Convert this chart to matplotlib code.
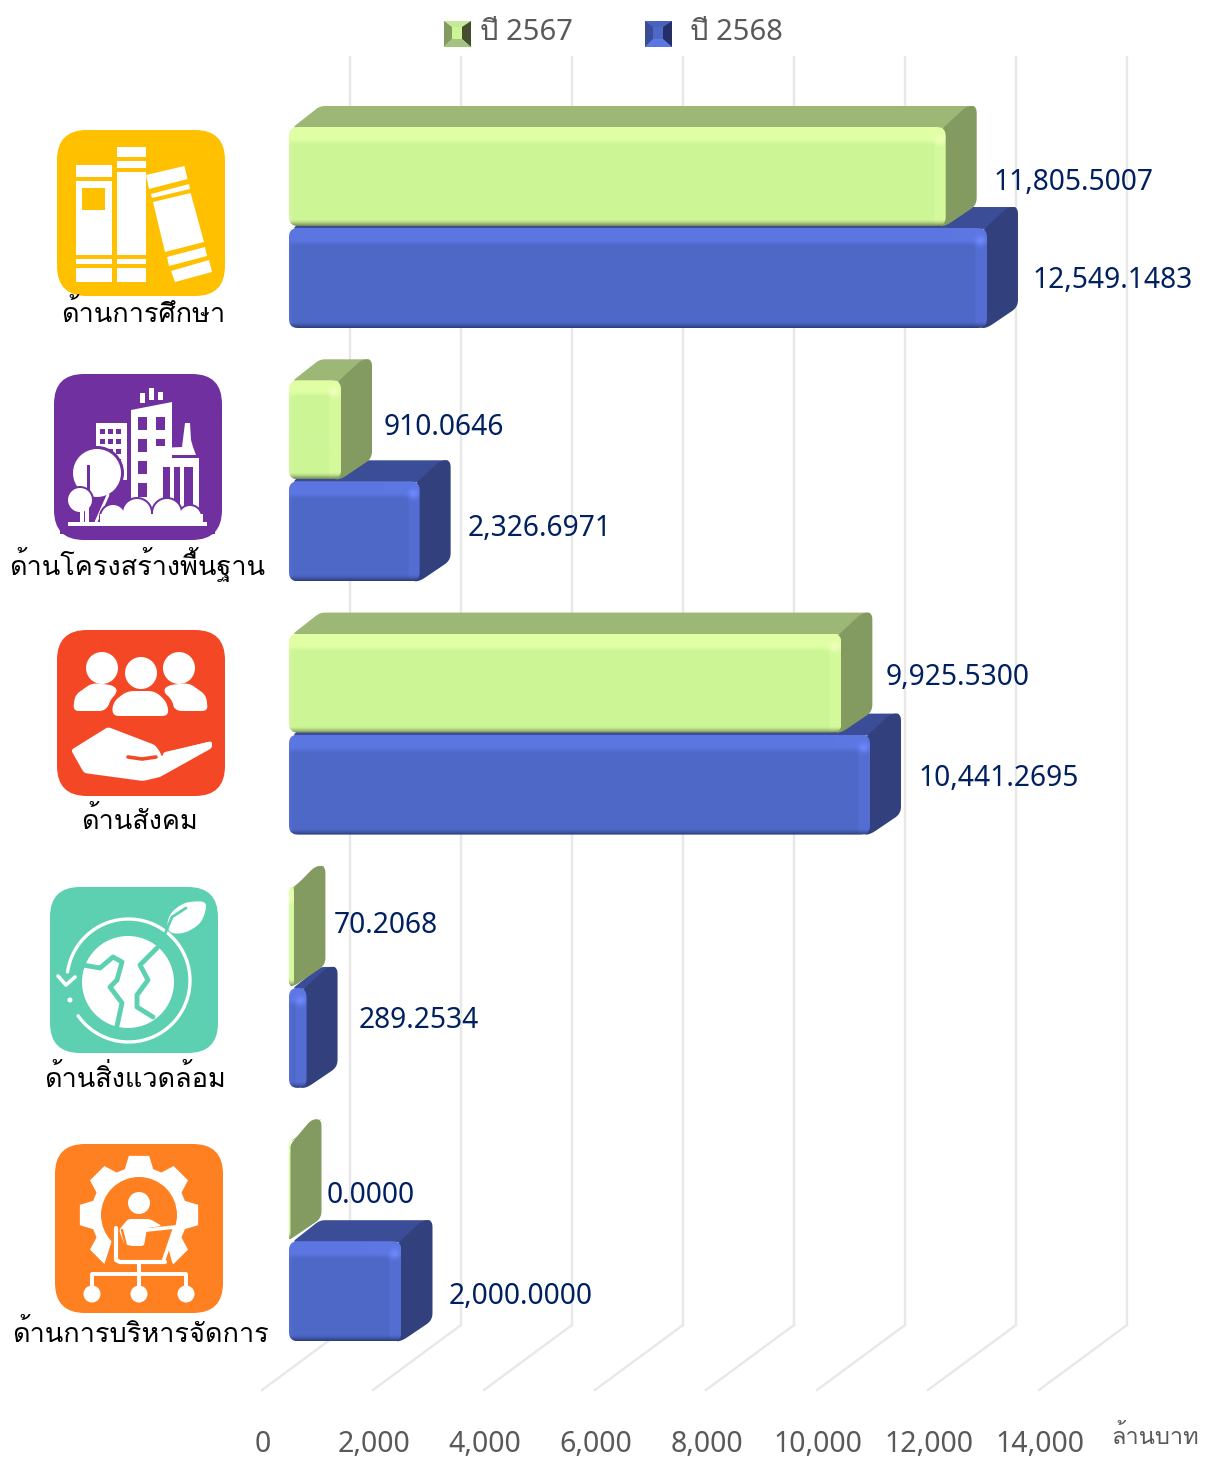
import numpy as np
import matplotlib
matplotlib.use("Agg")
import matplotlib.pyplot as plt
from matplotlib import font_manager as fm
from matplotlib.ft2font import FT2Font
from matplotlib.patches import Polygon, Circle, Rectangle, FancyBboxPatch

# data
categories = ["ด้านการศึกษา", "ด้านโครงสร้างพื้นฐาน", "ด้านสังคม", "ด้านสิ่งแวดล้อม", "ด้านการบริหารจัดการ"]
values_2567 = [11805.5007, 910.0646, 9925.5300, 70.2068, 0.0]
values_2568 = [12549.1483, 2326.6971, 10441.2695, 289.2534, 2000.0]
labels_2567 = ["11,805.5007", "910.0646", "9,925.5300", "70.2068", "0.0000"]
labels_2568 = ["12,549.1483", "2,326.6971", "10,441.2695", "289.2534", "2,000.0000"]
ticks = [0, 2000, 4000, 6000, 8000, 10000, 12000, 14000]
tick_labels = ["0", "2,000", "4,000", "6,000", "8,000", "10,000", "12,000", "14,000"]
legend_names = ["ปี 2567", "ปี 2568"]
unit_name = "ล้านบาท"

W, H = 1212, 1457
PX_PER_VAL = 0.0555   # px per million baht
X0 = 289              # px of value 0, front of the bars
Y0 = 228              # px of the boundary between bars in category 0
CAT_STEP = 253.3
DX, DY = 31, 21       # bar depth in px


def find_thai():
    # take whatever installed font has thai letters
    for f in fm.fontManager.ttflist:
        try:
            cm = FT2Font(f.fname).get_charmap()
        except Exception:
            continue
        if 0x0E14 in cm and 0x0E32 in cm:
            return f.name
    return None


thai = find_thai()
fam_lab = ([thai] if thai else []) + ["Noto Sans", "DejaVu Sans"]
fam_num = ["Noto Sans"] + ([thai] if thai else []) + ["DejaVu Sans"]
plt.rcParams["font.family"] = fam_lab

fig = plt.figure(figsize=(W / 100, H / 100), dpi=100)
ax = fig.add_axes([0, 0, 1, 1])
ax.axis("off")

px = fig.add_axes([0, 0, 1, 1])   # pixel layer for icons and legend
px.set_xlim(0, W)
px.set_ylim(H, 0)
px.axis("off")
px.patch.set_alpha(0)


def vx(p):
    return p / PX_PER_VAL


def vy(p):
    return p / CAT_STEP


def smooth(pts, r=7, n=7):
    # round the corners of a polygon given in px-like coords
    pts = [np.array(p, float) for p in pts]
    out = []
    m = len(pts)
    for k in range(m):
        p, a, b = pts[k], pts[k - 1], pts[(k + 1) % m]
        la, lb = np.linalg.norm(a - p), np.linalg.norm(b - p)
        if la < 1e-6 or lb < 1e-6:
            out.append(p)
            continue
        ra, rb = min(r, la / 2), min(r, lb / 2)
        s, e = p + (a - p) / la * ra, p + (b - p) / lb * rb
        for t in np.linspace(0, 1, n):
            out.append((1 - t) ** 2 * s + 2 * t * (1 - t) * p + t ** 2 * e)
    return out


GRID = "#E8E8E8"
back = vx(61)
for t in ticks:
    ax.plot([t + back, t + back], [vy(57 - Y0), vy(1325 - Y0)], color=GRID, lw=1.7, zorder=1)
    ax.plot([t + back, t + back - vx(88)], [vy(1325 - Y0), vy(1390 - Y0)], color=GRID, lw=1.7, zorder=1)


def to_data(pts, oy):
    # px offsets from (value 0, category line) to data coords
    return [(vx(p[0]), oy + vy(p[1])) for p in pts]


def bar3d(val, cat, top, bot, c, z):
    xe = val * PX_PER_VAL + 1.5
    xin = max(xe - 8, 0)
    ax.add_patch(Polygon(to_data(smooth([(3, top + 1), (xe, top + 1), (xe + DX, top - DY), (DX, top - DY)], 5), cat),
                         fc=c["top"], ec="none", zorder=z))
    ax.add_patch(Polygon(to_data(smooth([(xin, top + 6), (xe + DX - 10, top - DY), (xe + DX, top - DY),
                                         (xe + DX, bot - DY), (xe, bot), (xin, bot)], 7), cat),
                         fc=c["side"], ec="none", zorder=z + 0.1))
    # front face with the bevel shading
    wpx = max(int(round(xe)), 1)
    hpx = int(round(bot - top))
    base = np.array(c["front"], float)
    hi = np.array(c["hi"], float)
    lo = np.array(c["lo"], float)
    spot = np.array(c["spot"], float)
    img = np.tile(base, (hpx, wpx, 1))
    xs = np.arange(wpx)
    ys = np.arange(hpx)
    rb = 0.4 * np.clip((xs - (wpx - 13)) / 2.0, 0, 1)[None, :, None]
    img = img * (1 - rb) + hi * rb
    lb = 0.4 * np.clip(1 - xs / 4.0, 0, 1)[None, :, None]
    img = img * (1 - lb) + hi * lb
    tb = np.clip((17 - ys) / 5.0, 0, 1)[:, None, None]
    img = img * (1 - tb) + hi * tb
    bb = np.clip(1 - (hpx - ys) / 7.0, 0, 1)[:, None, None] ** 1.5
    img = img * (1 - bb) + lo * bb
    gx, gy = np.meshgrid(xs, ys)
    sp = np.exp(-(((gx - (wpx - 7)) / 5.0) ** 2 + ((gy - 12) / 5.0) ** 2))[:, :, None]
    img = img * (1 - sp) + spot * sp
    x1 = wpx / PX_PER_VAL
    y0, y1 = cat + vy(top), cat + vy(bot)
    im = ax.imshow(img / 255.0, extent=(0, x1, y1, y0), aspect="auto", interpolation="bilinear", zorder=z + 0.2)
    clip = Polygon(to_data(smooth([(0, top), (xe, top), (xe, bot), (0, bot)], 9), cat),
                   transform=ax.transData, fc="none", ec="none")
    ax.add_patch(clip)
    im.set_clip_path(clip)


GREEN = dict(top="#9CB776", side="#839B61", front=(204, 245, 150), hi=(224, 255, 165), lo=(100, 118, 70),
             spot=(238, 255, 185))
BLUE = dict(top="#3A4D96", side="#32407D", front=(78, 104, 200), hi=(92, 118, 226), lo=(38, 52, 105),
            spot=(108, 136, 250))

for i in range(len(categories)):
    bar3d(values_2568[i], i, 0, 100, BLUE, 3 + i * 2)
    bar3d(values_2567[i], i, -101, -2, GREEN, 4 + i * 2)
ax.set_xlim((0 - X0) / PX_PER_VAL, (W - X0) / PX_PER_VAL)
ax.set_ylim((H - Y0) / CAT_STEP, (0 - Y0) / CAT_STEP)

# value labels, offsets from the bar end and from the category centre
dx_2567 = [49, 44, 46, 41, 38]
dy_2567 = [-46, -54, -57, -62, -46]
dx_2568 = [47, 49, 50, 54, 49]
dy_2568 = [53, 47, 44, 33, 55]
NAVY = "#002060"
for i in range(len(categories)):
    ax.text(values_2567[i] + vx(dx_2567[i]), i + vy(dy_2567[i]), labels_2567[i], color=NAVY, fontsize=20.3,
            va="center", ha="left", zorder=30, family=["Noto Sans"])
    ax.text(values_2568[i] + vx(dx_2568[i]), i + vy(dy_2568[i]), labels_2568[i], color=NAVY, fontsize=20.3,
            va="center", ha="left", zorder=30, family=["Noto Sans"])

# axis labels
GREY = "#595959"
for t, lab in zip(ticks, tick_labels):
    ax.text(t - vx(26), vy(1444 - Y0), lab, color=GREY, fontsize=20.5, ha="center", va="center", family=["Noto Sans"])
px.text(1155, 1437, unit_name, color=GREY, fontsize=17, ha="center", va="center", family=fam_lab)


# legend
def swatch(x, c):
    y0, y1 = 21, 47
    x1 = x + 27
    a, b = x + 8, x + 18
    p, q = y0 + 6, y1 - 8
    px.add_patch(Rectangle((x, y0), 27, 26, fc=c[0], ec="none"))
    px.add_patch(Polygon([(x, y0), (a, p), (a, q), (x, y1)], fc=c[1], ec="none"))
    px.add_patch(Polygon([(x1, y0), (b, p), (b, q), (x1, y1)], fc=c[2], ec="none"))
    px.add_patch(Polygon([(x, y1), (a, q), (b, q), (x1, y1)], fc=c[3], ec="none"))
    px.add_patch(Rectangle((a, p), 10, q - p, fc=c[4], ec="none"))


swatch(444, ["#C5E89A", "#839B61", "#434F30", "#A5C283", "#CCF596"])
swatch(645, ["#4A62BC", "#3A4D96", "#232F66", "#5C76E2", "#4E68C8"])
px.text(480, 32, legend_names[0], color=GREY, fontsize=21, ha="left", va="center", family=fam_num)
px.text(690, 32, legend_names[1], color=GREY, fontsize=21, ha="left", va="center", family=fam_num)

# category names
name_xy = [(143, 313), (137.5, 565), (139.5, 820), (134.5, 1078), (140.5, 1333)]
for name, (x, y) in zip(categories, name_xy):
    px.text(x, y, name, color="black", fontsize=19.5, ha="center", va="center")


# icons
def tile(x0, y0, x1, y1, col):
    px.add_patch(FancyBboxPatch((x0, y0), x1 - x0, y1 - y0, boxstyle="round,pad=0,rounding_size=30",
                                fc=col, ec="none", zorder=2))


def wr(x0, y0, x1, y1, col="white", z=3):
    px.add_patch(Rectangle((x0, y0), x1 - x0, y1 - y0, fc=col, ec="none", zorder=z))


def wp(pts, col="white", z=3, r=0):
    if r:
        pts = smooth(pts, r)
    px.add_patch(Polygon(pts, fc=col, ec="none", zorder=z))


def wc(x, y, r, col="white", z=3):
    px.add_patch(Circle((x, y), r, fc=col, ec="none", zorder=z))


def ln(xs, ys, col="white", lw=2.2, z=3):
    px.plot(xs, ys, color=col, lw=lw, zorder=z, solid_capstyle="round", solid_joinstyle="round")


# books
YEL = "#FFC000"
tile(57, 130, 225, 296, YEL)
for a, b in [(165, 177), (181, 255), (259, 264), (268, 282)]:
    wr(76, a, 112, b)
wr(82, 188, 105, 210, YEL)
for a, b in [(147, 157), (161, 168), (172, 255), (259, 264), (268, 282)]:
    wr(117, a, 146, b)
wp([(146, 175), (184.5, 166), (187.5, 179), (149, 189)])
wp([(151, 194), (189, 184), (190, 189), (152, 198)])
wp([(153, 202), (190.6, 193), (204, 242), (165, 252)])
wp([(167, 257), (205, 247), (207, 256), (169, 266)])
wp([(171, 271), (209, 260), (212, 272), (175, 282)])

# city
PUR = "#7030A0"
tile(54, 374, 222, 540, PUR)
wp([(131, 410), (172, 402), (172, 512), (131, 512)])
for a, b in [(417, 430), (439, 452), (461, 474), (483, 497)]:
    wr(138, a, 147, b, PUR)
wr(156, 417, 165, 430, PUR)
wr(156, 439, 165, 446, PUR)
wr(140, 393, 145, 403)
wr(149, 388, 154, 400)
wr(158, 392, 163, 400)
wr(96, 423, 127, 480)
for yy in [429, 439, 449, 459]:
    for xx in [100, 108, 116]:
        wr(xx, yy, xx + 5, yy + 5, PUR)
wp([(185, 423), (190, 423), (191, 440), (193, 447), (196, 455), (160, 455), (160, 448), (182, 447)])
wr(158, 458, 199, 516)
wr(163, 467, 193, 516, PUR)
wr(170, 467, 174, 516)
wr(180, 467, 184, 516)
wc(97, 473, 27, PUR, 3)
wc(97, 473, 24)
wr(87, 465, 90, 522, PUR)
wc(80, 500, 14, PUR, 3.1)
wc(80, 500, 12, "white", 3.2)
wr(80, 505, 84, 524, "white", 3.2)
wr(85, 497, 89, 524, "white", 3.2)
ln([96, 108], [522, 495], lw=2, z=3.2)
for x, y, r in [(113, 517, 12), (137, 513, 14), (167, 513, 14), (190, 517, 11)]:
    wc(x, y, r + 2, PUR, 3.3)
for x, y, r in [(113, 517, 12), (137, 513, 14), (167, 513, 14), (190, 517, 11)]:
    wc(x, y, r, "white", 3.4)
wr(100, 514, 203, 524, "white", 3.4)
wr(60, 526, 215, 534, PUR, 3.5)
wr(68, 522, 207, 526, "white", 3.6)

# people and hand
RED = "#F44725"
tile(57, 630, 225, 796, RED)
for x, y in [(102, 668), (179, 668)]:
    wc(x, y, 16)
wp([(73, 711), (75, 695), (92, 683), (112, 685), (118, 690), (105, 711)], r=6)
wp([(208, 711), (206, 695), (189, 683), (169, 685), (163, 690), (176, 711)], r=6)
wc(141, 673, 19, RED, 3.1)
wc(141, 673, 16, "white", 3.2)
wp([(107, 722), (109, 700), (125, 687), (157, 687), (173, 700), (175, 722)], RED, 3.1, 8)
wp([(112, 716), (113, 702), (127, 691), (155, 691), (167, 702), (169, 716)], "white", 3.2, 7)
wp([(71, 750), (108, 727), (155, 745), (160, 752), (162, 757), (164, 753), (212, 741), (212, 748),
    (160, 777), (143, 781), (84, 773)], r=3)
ln([128, 142, 156], [757, 759, 757], col=RED, lw=2.6, z=3.3)
ln([166, 209], [755, 745], lw=4.5, z=3.2)

# earth
TEAL = "#5DD0B1"
tile(50, 887, 218, 1053, TEAL)
ang = np.radians(np.linspace(172, -145, 120))
ln(128.5 + 61.5 * np.cos(ang), 980.5 - 61.5 * np.sin(ang), lw=2.4)
ln([58, 66, 75], [976, 985, 977], lw=2.6)
wc(70, 1000, 2.5)
wc(128, 982, 46)
# continent gaps
ln([83, 100, 113, 122, 117, 110, 122, 117], [965, 968, 957, 962, 980, 987, 1003, 1026], col=TEAL, lw=3.5, z=3.1)
ln([157, 140, 148, 137, 137, 153], [948, 965, 980, 995, 1007, 1017], col=TEAL, lw=3.5, z=3.1)
wp([(167, 933), (168, 915), (184, 902), (208, 901), (202, 923), (184, 934)], r=9)
ln([165, 172, 186], [934, 917, 908], col=TEAL, lw=2, z=3.2)

# gear and person
ORG = "#FF8021"
tile(55, 1144, 223, 1313, ORG)
ang = np.linspace(0, 2 * np.pi, 8, endpoint=False) + np.pi / 2
pts = []
for a in ang:
    for da, r in [(-0.30, 48), (-0.17, 60), (0.17, 60), (0.30, 48)]:
        pts.append((139 + r * np.cos(a + da), 1215 - r * np.sin(a + da)))
wp(pts)
wc(139, 1215, 38, ORG, 3.1)
wp([(112, 1240), (166, 1240), (172, 1262), (178, 1278), (100, 1278)], ORG, 3.15)
wc(139, 1203, 11, "white", 3.2)
wp([(119, 1230), (128, 1219), (150, 1219), (162, 1226), (147, 1228), (144, 1246), (125, 1246)], "white", 3.2, 3)
ln([116, 116, 120, 165], [1228, 1260, 1262, 1262], lw=3, z=3.3)
ln([122, 126, 146, 146], [1230, 1246, 1250, 1258], col=ORG, lw=1.8, z=3.3)
wp([(147, 1230), (175, 1227), (163, 1262), (147, 1262)], ORG, 3.25)
ln([147, 175, 163], [1230, 1227, 1262], lw=2.6, z=3.3)
wr(137, 1262, 141, 1290, "white", 3.3)
ln([92, 92, 186, 186], [1290, 1274, 1274, 1290], lw=2.8, z=3.3)
for x in [92, 139, 186]:
    wc(x, 1294, 8.5, "white", 3.3)

fig.savefig("out.png", dpi=100)
